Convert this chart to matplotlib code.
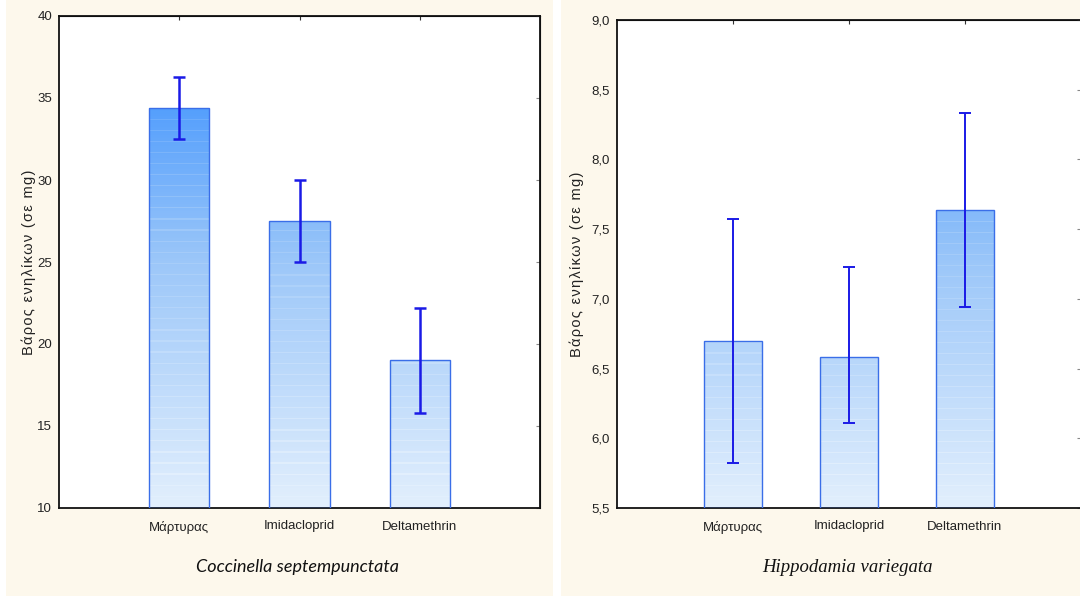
import numpy as np
import matplotlib
matplotlib.use("Agg")
import matplotlib.pyplot as plt
from matplotlib.colors import LinearSegmentedColormap
from matplotlib.patches import Rectangle

# data
treatments = ["Μάρτυρας", "Imidacloprid", "Deltamethrin"]
ylabel = "Βάρος ενηλίκων (σε mg)"

cocc_mean = [34.4, 27.5, 19.0]
cocc_low = [32.5, 25.0, 15.8]
cocc_high = [36.3, 30.0, 22.2]

hipp_mean = [6.70, 6.58, 7.64]
hipp_low = [5.82, 6.11, 6.94]
hipp_high = [7.57, 7.23, 8.33]

cocc_ticks = [10, 15, 20, 25, 30, 35, 40]
hipp_ticks = [5.5, 6.0, 6.5, 7.0, 7.5, 8.0, 8.5, 9.0]

W, H = 1080, 596
cream = "#fdf8ec"
narrow = ["Liberation Sans Narrow", "Liberation Sans", "DejaVu Sans"]

fig = plt.figure(figsize=(W / 100, H / 100), dpi=100, facecolor="white")
fig.patches.append(Rectangle((6 / W, 0), 547 / W, 1, transform=fig.transFigure,
                             facecolor=cream, edgecolor="none", zorder=-10))
fig.patches.append(Rectangle((561 / W, 0), 519 / W, 1, transform=fig.transFigure,
                             facecolor=cream, edgecolor="none", zorder=-10))

cmap = LinearSegmentedColormap.from_list("bar", ["#e2effd", "#9cc7f9", "#2a87ff"])

# spaced-out label, like the original
spaced_label = "\u200a".join(ylabel)


def draw(ax, means, low, high, ticks, ylim, fmt, lw, label_x):
    x = np.arange(len(means))
    ax.set_facecolor("white")
    grad = np.linspace(0, 1, 400).reshape(-1, 1)
    # faint horizontal streaks in the fill
    streak = (np.arange(400) % 9 == 0) * 0.08
    grad = np.clip(grad - streak.reshape(-1, 1), 0, 1)
    bars = ax.bar(x, np.array(means) - ylim[0], bottom=ylim[0], width=0.5,
                  facecolor="none", edgecolor="#3a6ee8", linewidth=1, zorder=3)
    for b in bars:
        im = ax.imshow(grad, cmap=cmap, origin="lower", aspect="auto",
                       extent=(b.get_x(), b.get_x() + b.get_width(), ylim[0], ylim[1]),
                       zorder=2, interpolation="nearest")
        im.set_clip_path(b)
    yerr = [np.array(means) - np.array(low), np.array(high) - np.array(means)]
    ax.errorbar(x, means, yerr=yerr, fmt="none", ecolor="#1a1ae6", elinewidth=lw,
                capsize=4.3, capthick=lw, zorder=4)
    ax.set_xlim(-1, 3)
    ax.set_ylim(*ylim)
    ax.set_yticks(ticks)
    ax.set_yticklabels([fmt(t) for t in ticks], family=narrow, fontsize=9.5)
    ax.set_xticks(x)
    ax.set_xticklabels(treatments, family=narrow, fontsize=9.5)
    ax.tick_params(axis="both", length=0, pad=5, colors="#222222")
    ax.tick_params(axis="x", pad=9)
    for s in ax.spines.values():
        s.set_linewidth(1.3)
        s.set_color("#111111")
    ax.set_ylabel(spaced_label, family=["Liberation Sans", "DejaVu Sans"],
                  fontsize=10.5, color="#222222")
    ax.yaxis.set_label_coords(label_x, 0.5)
    top = ax.secondary_xaxis("top")
    top.set_xticks(x)
    top.set_xticklabels([])
    top.tick_params(direction="in", length=3, color="#333333")
    right = ax.secondary_yaxis("right")
    right.set_yticks(ticks)
    right.set_yticklabels([])
    right.tick_params(direction="in", length=3, color="#888888")


ax1 = fig.add_axes([59 / W, 88 / H, 481 / W, 492 / H])
draw(ax1, cocc_mean, cocc_low, cocc_high, cocc_ticks, (10, 40), lambda t: f"{t:d}", 1.8,
     -0.048)

ax2 = fig.add_axes([617 / W, 88 / H, 464 / W, 488 / H])
draw(ax2, hipp_mean, hipp_low, hipp_high, hipp_ticks, (5.5, 9.0),
     lambda t: f"{t:.1f}".replace(".", ","), 1.4, -0.072)

fig.text(298 / W, 1 - 567 / H, "Coccinella septempunctata", ha="center", va="center",
         family=["Lato", "DejaVu Sans"], style="italic", fontsize=13, color="#111111")
fig.text(847 / W, 1 - 567 / H, "Hippodamia variegata", ha="center", va="center",
         family=["Liberation Serif", "DejaVu Serif"], style="italic", fontsize=13.5,
         color="#111111")

plt.savefig("out.png", dpi=100, facecolor=fig.get_facecolor())
